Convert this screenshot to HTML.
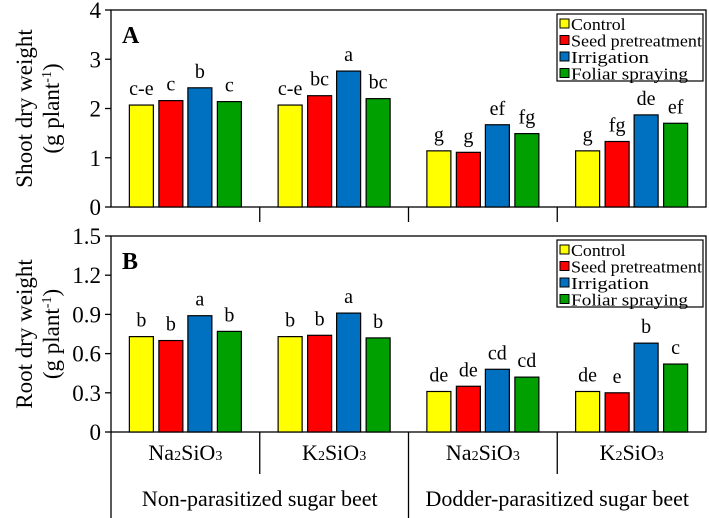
<!DOCTYPE html>
<html><head><meta charset="utf-8"><style>
body{margin:0;background:#fff}
svg{display:block}
svg text{font-family:"Liberation Serif","Times New Roman",serif}
</style></head><body>
<svg id="chart" width="709" height="518" viewBox="0 0 709 518"></svg>
<script>
const seriesNames=["Control","Seed pretreatment","Irrigation","Foliar spraying"];
const seriesColors=["#ffff00","#ff0000","#0070c0","#00a000"];
const groupLabels=[["Na","2","SiO","3"],["K","2","SiO","3"],["Na","2","SiO","3"],["K","2","SiO","3"]];
const superLabels=["Non-parasitized sugar beet","Dodder-parasitized sugar beet"];
const shootValues=[[2.07,2.16,2.42,2.14],[2.07,2.26,2.76,2.2],[1.14,1.11,1.67,1.49],[1.14,1.33,1.87,1.7]];
const shootLetters=[["c-e","c","b","c"],["c-e","bc","a","bc"],["g","g","ef","fg"],["g","fg","de","ef"]];
const shootTicks=[0,1,2,3,4];
const rootValues=[[0.73,0.70,0.89,0.77],[0.73,0.74,0.91,0.72],[0.31,0.35,0.48,0.42],[0.31,0.30,0.68,0.52]];
const rootLetters=[["b","b","a","b"],["b","b","a","b"],["de","de","cd","cd"],["de","e","b","c"]];
const rootTicks=[0,0.3,0.6,0.9,1.2,1.5];
const rootTickLabels=["0","0.3","0.6","0.9","1.2","1.5"];

const svg=document.getElementById('chart');
const NS="http://www.w3.org/2000/svg";
const FF='"Liberation Serif", serif';
function mk(tag,attrs,parent){const e=document.createElementNS(NS,tag);for(const k in attrs)e.setAttribute(k,attrs[k]);if(tag==='text')e.setAttribute('font-family',FF);(parent||svg).appendChild(e);return e;}
const X0=111,X1=706,GW=(X1-X0)/4;
const offs=[-44,-14.5,14.5,44],BW=24;
function gx(g){return X0+GW*g+GW/2;}

function panel(cfg){
  const g=mk('g',{});
  
  
  const ys=v=>cfg.y0-(v-cfg.min)/(cfg.max-cfg.min)*(cfg.y0-cfg.y1);
  const fr=mk('rect',{x:X0,y:cfg.y1,width:X1-X0,height:cfg.y0-cfg.y1,fill:'none',stroke:'#000','stroke-width':1.3},g);
  
  cfg.ticks.forEach((t,i)=>{
    const y=ys(t);
    const tl=mk('line',{x1:X0-6,x2:X0,y1:y,y2:y,stroke:'#000','stroke-width':1.3},g);
    
    const tx=mk('text',{x:X0-10,y:y+8,'text-anchor':'end','font-size':23},g);
    tx.textContent=cfg.tickLabels[i];
    
  });
  const ttl=mk('text',{transform:`translate(32,${(cfg.y0+cfg.y1)/2}) rotate(-90)`,'text-anchor':'middle','font-size':23},g);
  
  const t1=mk('tspan',{x:0,dy:0},ttl);t1.textContent=cfg.title;
  const t2=mk('tspan',{x:0,dy:27},ttl);t2.textContent='(g plant';
  const t3=mk('tspan',{dy:-8,'font-size':14},ttl);t3.textContent='-1';
  const t4=mk('tspan',{dy:8},ttl);t4.textContent=')';
  const pl=mk('text',{x:X0+11,y:cfg.y1+33,'font-size':24,'font-weight':'bold'},g);
  pl.textContent=cfg.label;
  cfg.values.forEach((grp,gi)=>{
    grp.forEach((v,si)=>{
      const cx=gx(gi)+offs[si];
      const r=mk('rect',{x:cx-BW/2,y:ys(v),width:BW,height:cfg.y0-ys(v),fill:seriesColors[si],stroke:'#000','stroke-width':1.2},g);
      
      
      const lt=mk('text',{x:cx,y:ys(v)-10,'text-anchor':'middle','font-size':20},g);
      lt.textContent=cfg.letters[gi][si];
      
    });
  });
  const lg=mk('g',{},g);
  mk('rect',{x:557,y:cfg.y1+4,width:146,height:67,fill:'#fff',stroke:'#000','stroke-width':1.2},lg);
  seriesNames.forEach((n,i)=>{
    const y=cfg.y1+14+i*16.5;
    const sw=mk('rect',{x:560,y:y-5,width:9,height:9,fill:seriesColors[i],stroke:'#000','stroke-width':1},lg);
    
    const lt=mk('text',{x:571,y:y+6,'font-size':17,textLength:Math.min(131,n.length*7.8),lengthAdjust:'spacingAndGlyphs'},lg);lt.textContent=n;
    
  });
  return ys;
}
panel({name:'panel-a-shoot',y0:207,y1:10,min:0,max:4,ticks:shootTicks,tickLabels:shootTicks.map(String),title:'Shoot dry weight',label:'A',values:shootValues,letters:shootLetters});
[1,2,3].forEach(i=>{const l=mk('line',{x1:X0+GW*i,x2:X0+GW*i,y1:207,y2:222,stroke:'#000','stroke-width':1.3});});
panel({name:'panel-b-root',y0:432,y1:236,min:0,max:1.5,ticks:rootTicks,tickLabels:rootTickLabels,title:'Root dry weight',label:'B',values:rootValues,letters:rootLetters});
[[X0,432,518],[X0+GW,432,474],[X0+GW*2,432,518],[X0+GW*3,432,474]].forEach(a=>{const l=mk('line',{x1:a[0],x2:a[0],y1:a[1],y2:a[2],stroke:'#000','stroke-width':1.3});});
groupLabels.forEach((parts,i)=>{
  const e=mk('text',{x:gx(i),y:460,'text-anchor':'middle','font-size':22});
  parts.forEach((p,k)=>{const s=mk('tspan',k%2?{'font-size':14}:{},e);s.textContent=p;});
  
});
superLabels.forEach((t,i)=>{const e=mk('text',{x:X0+GW*(2*i+1),y:506,'text-anchor':'middle','font-size':22});e.textContent=t;});
</script>
</body></html>
